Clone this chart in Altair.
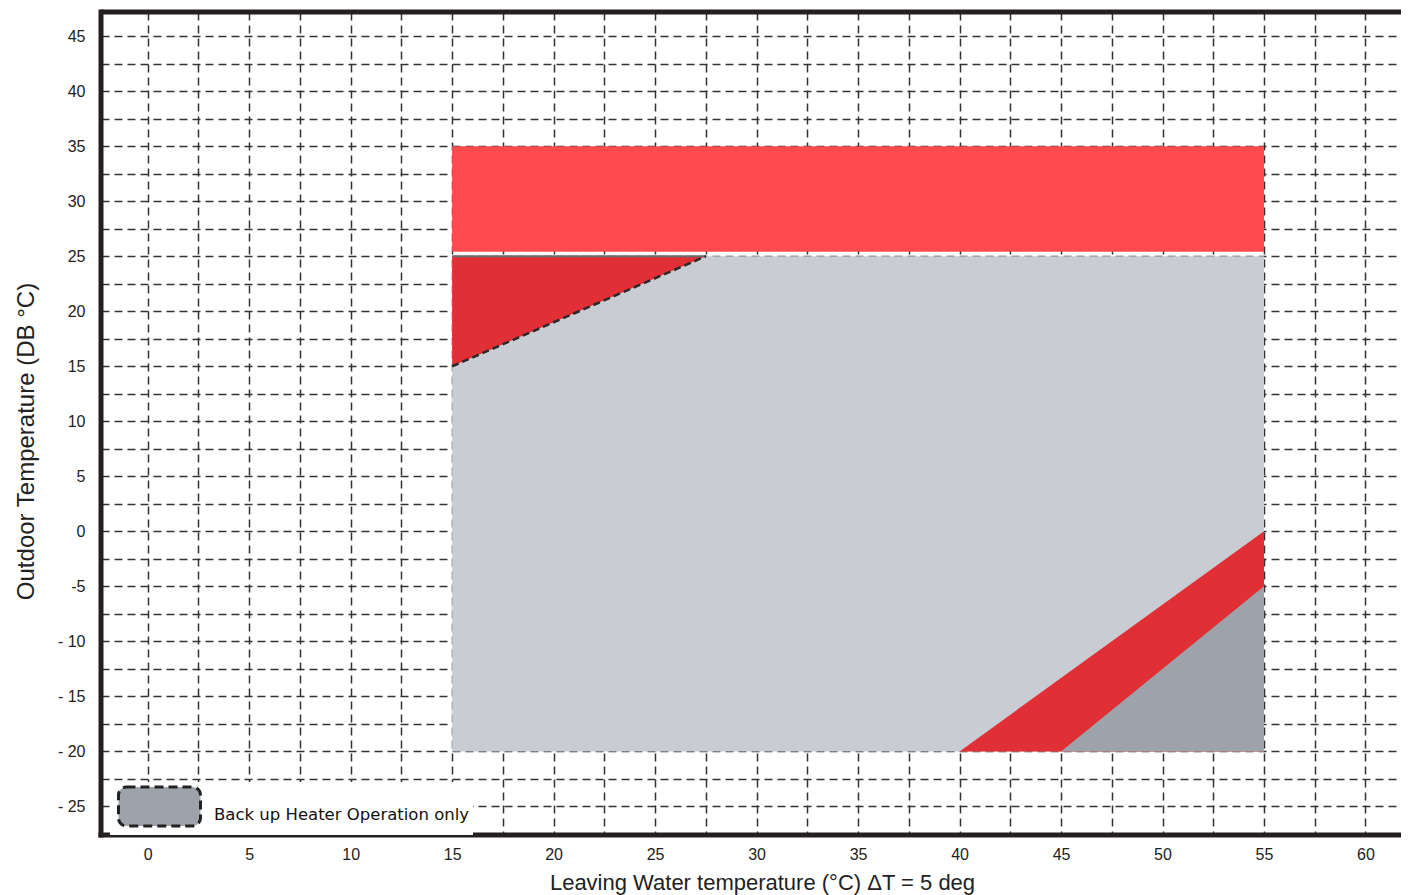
import altair as alt
import pandas as pd

# ---------------- data ----------------
x_grid_values = [0, 2.5, 5, 7.5, 10, 12.5, 15, 17.5, 20, 22.5, 25, 27.5, 30, 32.5,
                 35, 37.5, 40, 42.5, 45, 47.5, 50, 52.5, 55, 57.5, 60]
y_grid_values = [-25, -22.5, -20, -17.5, -15, -12.5, -10, -7.5, -5, -2.5, 0, 2.5, 5,
                 7.5, 10, 12.5, 15, 17.5, 20, 22.5, 25, 27.5, 30, 32.5, 35, 37.5, 40,
                 42.5, 45]

# cooling band (upper red)
band_x = [15, 55]
band_y = [25.4, 35]
# heating operation range (light grey)
oper_x = [15, 55]
oper_y = [-20, 25]
# upper-left red triangle
tri_x = [15, 27.5]
tri_low = [15, 25]
tri_top = [25, 25]
# lower-right red strip
strip_x = [40, 55]
strip_top = [-20, 0]
strip_base = [-20, -20]
# back-up heater only (dark grey)
backup_x = [45, 55]
backup_top = [-20, -5]
backup_base = [-20, -20]
legend_label = ["Back up Heater Operation only"]

X_TITLE = "Leaving Water temperature (°C) ΔT = 5 deg"
Y_TITLE = "Outdoor Temperature (DB °C)"

W, H = 1300, 823
FONT = "Liberation Sans"

xscale = alt.Scale(domain=[-2.3, 61.75], nice=False, zero=False)
yscale = alt.Scale(domain=[-27.6, 47.2], nice=False, zero=False)

xaxis = alt.Axis(values=x_grid_values,
                 labelExpr="datum.value % 5 != 0 ? '' : '' + datum.value",
                 labelPadding=11, labelOverlap=False, labelFlush=False,
                 titleX=661, titleY=47, titleBaseline="middle", titleAlign="center",
                 titleFontSize=22)
yaxis = alt.Axis(values=y_grid_values,
                 labelExpr="datum.value % 5 != 0 ? '' : (datum.value <= -10 ? '- ' + (-datum.value) : '' + datum.value)",
                 labelPadding=16, labelOverlap=False, labelFlush=False,
                 titleX=-75, titleY=429, titleAngle=270, titleBaseline="middle",
                 titleAlign="center", titleFontSize=24)


def xe(field="x"):
    return alt.X(f"{field}:Q", scale=xscale, axis=xaxis, title=X_TITLE)


def ye(field="y"):
    return alt.Y(f"{field}:Q", scale=yscale, axis=yaxis, title=Y_TITLE)


band_df = pd.DataFrame({"x": [band_x[0]], "x2": [band_x[1]], "y": [band_y[0]], "y2": [band_y[1]]})
oper_df = pd.DataFrame({"x": [oper_x[0]], "x2": [oper_x[1]], "y": [oper_y[0]], "y2": [oper_y[1]]})
tri_df = pd.DataFrame({"x": tri_x, "y": tri_low, "y2": tri_top})
strip_df = pd.DataFrame({"x": strip_x, "y": strip_top, "y2": strip_base})
backup_df = pd.DataFrame({"x": backup_x, "y": backup_top, "y2": backup_base,
                          "label": legend_label * len(backup_x)})
frame_df = pd.DataFrame({"edge": ["frame"]})

band = alt.Chart(band_df).mark_rect(color="#FF4B50").encode(
    x=xe(), x2="x2:Q", y=ye(), y2="y2:Q")
oper = alt.Chart(oper_df).mark_rect(color="#C9CDD3").encode(
    x=xe(), x2="x2:Q", y=ye(), y2="y2:Q")
tri = alt.Chart(tri_df).mark_area(color="#E03036").encode(
    x=xe(), y=ye(), y2="y2:Q")
tri_edge = alt.Chart(tri_df).mark_line(color="#2a2a2a", strokeWidth=2.5,
                                       strokeDash=[7, 4]).encode(x=xe(), y=ye())
tri_top_edge = alt.Chart(tri_df).mark_line(color="#6a6a6a", strokeWidth=2).encode(
    x=xe(), y=ye("y2"))
strip = alt.Chart(strip_df).mark_area(color="#E03036").encode(
    x=xe(), y=ye(), y2="y2:Q")

# rounded rectangle symbol, about 82 x 39 px at symbolSize 1600 (scale 20 px / unit)
SYMBOL = ("M-1.65,-0.97 H1.65 A0.4,0.4 0 0 1 2.05,-0.57 V0.57 A0.4,0.4 0 0 1 1.65,0.97 "
          "H-1.65 A0.4,0.4 0 0 1 -2.05,0.57 V-0.57 A0.4,0.4 0 0 1 -1.65,-0.97 Z")

backup = alt.Chart(backup_df).mark_area().encode(
    x=xe(), y=ye(), y2="y2:Q",
    fill=alt.Fill("label:N",
                  scale=alt.Scale(domain=legend_label, range=["#9EA3AB"]),
                  legend=alt.Legend(title=None, orient="none", legendX=9, legendY=770,
                                    symbolType=SYMBOL, symbolSize=1600, symbolOffset=25,
                                    symbolStrokeColor="#222222", symbolStrokeWidth=3,
                                    symbolDash=[9, 5], symbolOpacity=1,
                                    labelFont="DejaVu Sans", labelFontSize=16.5,
                                    labelColor="#111111", labelOffset=33,
                                    labelBaseline="top", labelLimit=500,
                                    padding=3, fillColor="white", zindex=2)))

top_rule = alt.Chart(frame_df).mark_rule(color="#231F20", strokeWidth=5).encode(
    x=alt.value(0), x2=alt.value(W), y=alt.value(0))
left_rule = alt.Chart(frame_df).mark_rule(color="#231F20", strokeWidth=5).encode(
    x=alt.value(0), y=alt.value(-2.5), y2=alt.value(H + 2.5))
bottom_rule = alt.Chart(frame_df).mark_rule(color="#231F20", strokeWidth=5).encode(
    x=alt.value(-2.5), x2=alt.value(W), y=alt.value(H))

chart = alt.layer(
    band, oper, tri, tri_top_edge, tri_edge, strip, backup,
    top_rule, left_rule, bottom_rule
).properties(
    width=W, height=H,
    autosize=alt.AutoSizeParams(type="none"),
    padding={"left": 93, "top": 4, "right": 0, "bottom": 60},
    background="white",
).configure_axis(
    zindex=1, grid=True, gridColor="#333333", gridDash=[8, 5], gridWidth=1.5,
    gridOpacity=1, domain=False, ticks=False, tickSize=0,
    labelFont=FONT, labelFontSize=16, labelColor="#222222",
    titleFont=FONT, titleFontWeight="normal", titleColor="#222222",
).configure_view(stroke=None)

chart.save("out.html", embed_options={"renderer": "svg", "actions": False})
